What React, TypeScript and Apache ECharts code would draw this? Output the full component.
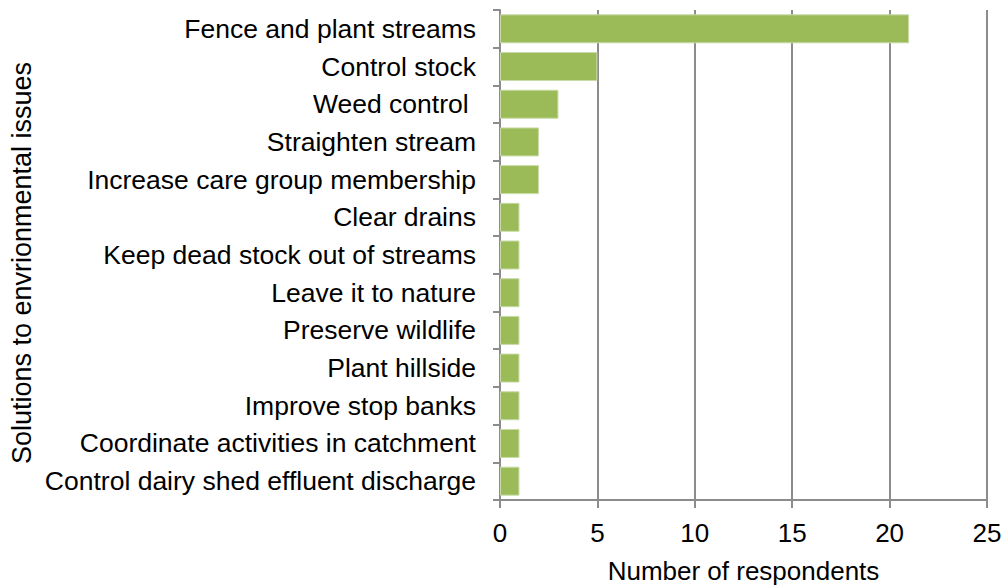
import React, { useEffect, useRef } from "react";
import * as echarts from "echarts";

// Solutions listed top to bottom, with respondent counts
const categories = [
  "Fence and plant streams",
  "Control stock",
  "Weed control ",
  "Straighten stream",
  "Increase care group membership",
  "Clear drains",
  "Keep dead stock out of streams",
  "Leave it to nature",
  "Preserve wildlife",
  "Plant hillside",
  "Improve stop banks",
  "Coordinate activities in catchment",
  "Control dairy shed effluent discharge",
];
const respondents = [21, 5, 3, 2, 2, 1, 1, 1, 1, 1, 1, 1, 1];

const FONT = "'Liberation Sans', Arial, sans-serif";
const AXIS_GRAY = "#8c8c8c";
const FS = 26;

export default function App() {
  const ref = useRef<HTMLDivElement>(null);

  useEffect(() => {
    if (!ref.current) return;
    const chart = echarts.init(ref.current, undefined, { renderer: "svg" });
    chart.setOption({
      animation: false,
      backgroundColor: "#ffffff",
      textStyle: { fontFamily: FONT, color: "#000" },
      grid: {
        left: 500,
        right: 15,
        top: 10,
        bottom: 85,
        containLabel: false,
        outerBoundsMode: "none",
      },
      xAxis: {
        type: "value",
        min: 0,
        max: 25,
        interval: 5,
        name: "Number of respondents",
        nameLocation: "middle",
        nameGap: 58,
        nameTextStyle: { fontSize: FS, color: "#000", fontFamily: FONT },
        axisLine: { show: true, lineStyle: { color: AXIS_GRAY, width: 2 } },
        axisTick: { show: true, length: 8, lineStyle: { color: AXIS_GRAY, width: 2 } },
        axisLabel: { fontSize: FS, color: "#000", margin: 20, fontFamily: FONT, hideOverlap: false },
        splitLine: { show: true, lineStyle: { color: AXIS_GRAY, width: 2 } },
      },
      yAxis: {
        type: "category",
        inverse: true,
        data: categories,
        name: "Solutions to envrionmental issues",
        nameLocation: "middle",
        nameRotate: 90,
        nameGap: 465,
        nameTextStyle: { fontSize: 27, color: "#000", fontFamily: FONT, padding: [0, 16, 0, 0] },
        axisLine: { show: true, lineStyle: { color: AXIS_GRAY, width: 2 } },
        axisTick: { show: true, length: 7, lineStyle: { color: AXIS_GRAY, width: 2 } },
        axisLabel: { fontSize: 26.5, color: "#000", margin: 24, fontFamily: FONT },
        splitLine: { show: false },
      },
      series: [
        {
          type: "bar",
          data: respondents,
          barWidth: 29,
          itemStyle: { color: "#9bbb59", borderColor: "#c9dba8", borderWidth: 1 },
        },
      ],
    });
    return () => chart.dispose();
  }, []);

  return (
    <div
      ref={ref}
      style={{ position: "fixed", left: 0, top: 0, width: 1002, height: 585, overflow: "visible" }}
    />
  );
}
